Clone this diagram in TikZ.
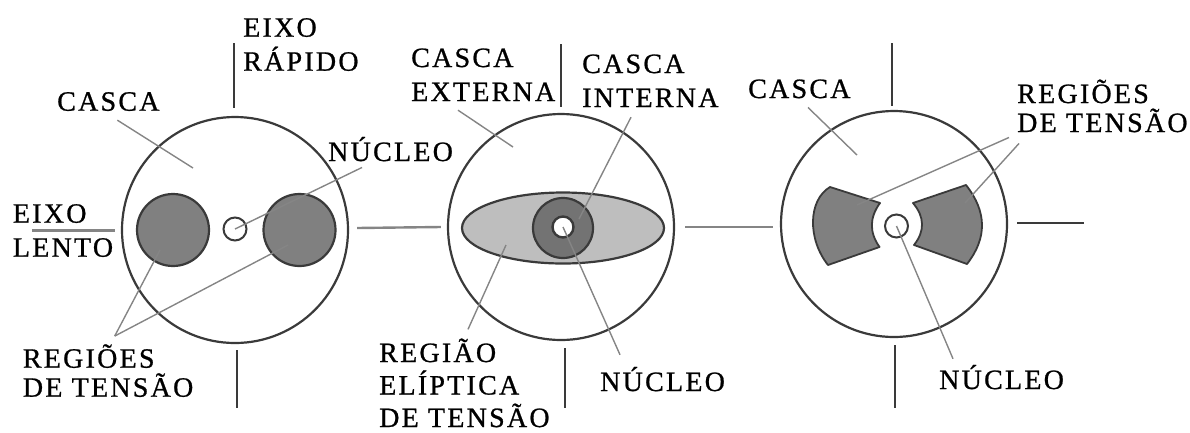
\documentclass[tikz,border=0pt]{standalone}
\usepackage{fontspec}
\usepackage{tikz}
\usetikzlibrary{shapes.geometric,calc}
\newfontfamily\lblfont[LetterSpace=8,FakeBold=0.8]{Liberation Serif}
\definecolor{shellLine}{HTML}{3A3A3A}
\definecolor{stressFill}{HTML}{808080}
\definecolor{ellipseFill}{HTML}{BEBEBE}
\definecolor{leaderLine}{HTML}{858585}
\tikzset{
  lbl/.style={anchor=base west,inner sep=0pt,align=left,text=black,font={\lblfont\fontsize{28}{34}\selectfont}},
  lbltight/.style={lbl,font={\lblfont\fontsize{28}{29}\selectfont}},
  lblsnug/.style={lbl,font={\lblfont\fontsize{28}{32.5}\selectfont}},
  shell/.style={draw=shellLine,circle,line width=2.2pt,inner sep=0pt,minimum size=226pt},
  stress/.style={draw=shellLine,circle,fill=stressFill,line width=2.2pt,inner sep=0pt,minimum size=72pt},
  core/.style={draw=shellLine,circle,fill=white,line width=2pt,inner sep=0pt,minimum size=23pt},
  leader/.style={draw=leaderLine,line width=1.4pt},
  axisline/.style={draw=shellLine,line width=2.4pt}
}
\begin{document}
\begin{tikzpicture}[x=1pt,y=-1pt]
  \useasboundingbox (0,0) rectangle (1190,432);
  % left
  \node[shell] (shellA) at (235,230) {};
  \node[stress] (stressAl) at (173,230) {};
  \node[stress] (stressAr) at (299.5,230) {};
  \node[core] (coreA) at (235,229) {};
  % middle
  \node[shell] (shellB) at (561,227) {};
  \node[draw=shellLine,ellipse,fill=ellipseFill,line width=2.2pt,inner sep=0pt,minimum width=202pt,minimum height=71pt] (ellipseB) at (563,228) {};
  \node[stress,fill=stressFill!90!black,minimum size=60pt] (ringB) at (563,228) {};
  \node[core,line width=2.4pt,minimum size=21pt] (coreB) at (563,227) {};
  % right
  \node[shell] (shellC) at (894,224) {};
  \node[core] (coreC) at (896.5,226) {};
  \draw[draw=shellLine,fill=stressFill,line width=1.8pt,line join=round]
    (830,187) -- (880,203) .. controls (869.3,217.7) and (869.2,232.3) .. (879.5,247) -- (828,265) .. controls (807.3,239) and (808,200) .. cycle;
  \draw[draw=shellLine,fill=stressFill,line width=1.8pt,line join=round]
    (913,203) -- (966,185) .. controls (987,211.7) and (987.3,238) .. (967,264) -- (914,245) .. controls (925,231) and (924.7,217) .. cycle;

  \node[lbl] (rapido) at (243,70.7) {EIXO\\RÁPIDO};
  \node[lbl] (cascaA) at (57,110.7) {CASCA};
  \node[lbl] (nucleoA) at (328,161) {NÚCLEO};
  \node[lbl] (lento) at (12.7,256.7) {EIXO\\LENTO};
  \node[lbltight] (regioesA) at (22.7,396.7) {REGIÕES\\DE TENSÃO};
  \node[lbl] (cascaB) at (411,101) {CASCA\\EXTERNA};
  \node[lbl] (cascaC) at (582,107) {CASCA\\INTERNA};
  \node[lblsnug] (regiaoB) at (379,427) {REGIÃO\\ELÍPTICA\\DE TENSÃO};
  \node[lbl] (nucleoB) at (600,391) {NÚCLEO};
  \node[lbl] (cascaD) at (748,98) {CASCA};
  \node[lbltight] (regioesC) at (1017,132) {REGIÕES\\DE TENSÃO};
  \node[lbl] (nucleoC) at (939,389) {NÚCLEO};

  \coordinate (tipCascaA) at (193,168);
  \coordinate (tipStressAl) at (160,250);
  \coordinate (tipStressAr) at (288,245);
  \coordinate (tipCascaB) at (513,147);
  \coordinate (tipRingB) at (579,219);
  \coordinate (tipEllipseB) at (506,245);
  \coordinate (tipCascaD) at (857,155);
  \coordinate (tipStressCl) at (857,205);
  \coordinate (tipStressCr) at (965,203);

  \draw[leader] ([xshift=9pt,yshift=-9pt]cascaA.south) -- (tipCascaA);
  \draw[leader] ([xshift=34pt,yshift=-6pt]nucleoA.south west) -- (coreA.center);
  \draw[leader] ([xshift=92pt,yshift=8pt]regioesA.north west) -- (tipStressAl);
  \draw[leader] ([xshift=92pt,yshift=8pt]regioesA.north west) -- (tipStressAr);
  \draw[leader] ([xshift=47pt,yshift=-9pt]cascaB.south west) -- (tipCascaB);
  \draw[leader] ([xshift=49pt,yshift=-10pt]cascaC.south west) -- (tipRingB);
  \draw[leader] ([xshift=89pt,yshift=9pt]regiaoB.north west) -- (tipEllipseB);
  \draw[leader] ([xshift=20pt,yshift=12pt]nucleoB.north west) -- (coreB.center);
  \draw[leader] ([xshift=60pt,yshift=-9pt]cascaD.south west) -- (tipCascaD);
  \draw[leader] ([xshift=-8pt,yshift=-5pt]regioesC.south west) -- (tipStressCl);
  \draw[leader] ([xshift=2pt,yshift=-11pt]regioesC.south west) -- (tipStressCr);
  \draw[leader] ([xshift=14pt,yshift=6pt]nucleoC.north west) -- (coreC.center);

  \draw[axisline] ([xshift=-1pt,yshift=8pt]shellA.north) -- ++(0pt,65pt);
  \draw[axisline] ([xshift=2pt,yshift=-6pt]shellA.south) -- ++(0pt,-58pt);
  \draw[axisline,draw=leaderLine,line width=3pt] ([xshift=-6pt]shellA.west) -- ++(-83pt,0pt);
  \draw[axisline,draw=leaderLine] ([xshift=8pt,yshift=2pt]shellA.east) -- ([xshift=-6pt]shellB.west);
  \draw[axisline] ([yshift=6pt]shellB.north) -- ++(0pt,63pt);
  \draw[axisline] ([xshift=4pt,yshift=-7pt]shellB.south) -- ++(0pt,-60pt);
  \draw[axisline,draw=leaderLine] ([xshift=10pt]shellB.east) -- ([xshift=-7pt,yshift=-3pt]shellC.west);
  \draw[axisline] ([xshift=-2pt,yshift=4pt]shellC.north) -- ++(0pt,63pt);
  \draw[axisline] ([xshift=1pt,yshift=-7pt]shellC.south) -- ++(0pt,-63pt);
  \draw[axisline] ([xshift=9pt,yshift=1pt]shellC.east) -- ++(67pt,0pt);
\end{tikzpicture}
\end{document}
